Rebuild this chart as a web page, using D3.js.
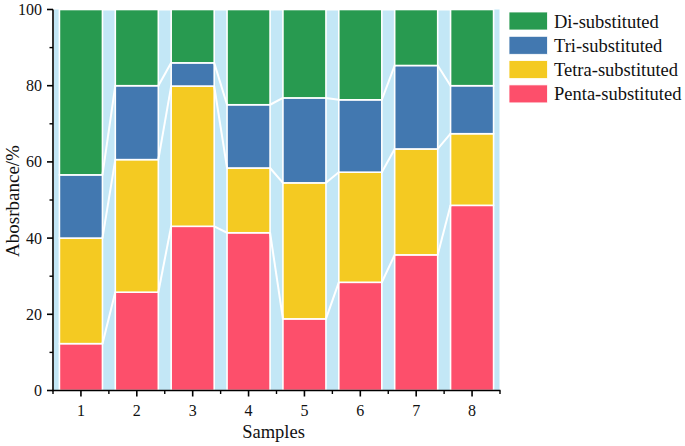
<!DOCTYPE html>
<html><head><meta charset="utf-8">
<script src="https://cdn.jsdelivr.net/npm/d3@7"></script>
<style>body{margin:0;background:#fff}svg{display:block}
svg text{font-family:"Liberation Serif","Times New Roman","DejaVu Serif",serif;fill:#111;}</style>
</head><body><svg id="c" width="685" height="446"></svg>
<script>
const samples = ["1","2","3","4","5","6","7","8"];
const seriesNames = ["Penta-substituted","Tetra-substituted","Tri-substituted","Di-substituted"];
const penta = [12.3, 25.8, 43.1, 41.4, 18.8, 28.4, 35.6, 48.6];
const tetra = [27.7, 34.8, 36.8, 17.0, 35.7, 28.9, 27.8, 18.8];
const tri   = [16.6, 19.4, 6.1, 16.6, 22.3, 19.0, 21.9, 12.6];
const di    = [43.4, 20.0, 14.0, 25.0, 23.2, 23.7, 14.7, 20.0];
const yTicks = [0, 20, 40, 60, 80, 100];
const colors = ["#fd4f6b", "#f4ca22", "#4278b0", "#289a50"];
const legendOrder = ["Di-substituted","Tri-substituted","Tetra-substituted","Penta-substituted"];

const svg = d3.select("#c");
const x = d3.scaleBand().domain(samples).range([53, 500]).paddingInner(0.23).paddingOuter(0.115);
const xb = d3.scaleBand().domain(samples).range([53, 500]);
const y = d3.scaleLinear().domain([0, 100]).range([390.5, 9.5]);

const rows = samples.map((s, i) => ({s, "Penta-substituted": penta[i], "Tetra-substituted": tetra[i], "Tri-substituted": tri[i], "Di-substituted": di[i]}));
const stacked = d3.stack().keys(seriesNames)(rows);

// background
svg.append("rect").attr("x", 54).attr("y", y(100)).attr("width", 499.5 - 54).attr("height", y(0) - y(100)).attr("fill", "#c3e7f6");

// bars
stacked.forEach((ser, k) => {
  svg.append("g").selectAll("rect").data(ser).join("rect")
    .attr("x", d => x(d.data.s))
    .attr("y", d => y(d[1]))
    .attr("width", x.bandwidth())
    .attr("height", d => y(d[0]) - y(d[1]))
    .attr("fill", colors[k])
    .attr("stroke", "#fff").attr("stroke-width", 1.6);
});

// connecting lines
const levels = stacked.map(ser => ser.map(d => d[1]));
levels.forEach(lv => {
  for (let i = 0; i < samples.length - 1; i++) {
    svg.append("line")
      .attr("x1", x(samples[i]) + x.bandwidth()).attr("y1", y(lv[i]))
      .attr("x2", x(samples[i+1])).attr("y2", y(lv[i+1]))
      .attr("stroke", "#fff").attr("stroke-width", 2);
  }
});

// axes
const gx = svg.append("g").attr("transform", `translate(0,${y(0)})`);
gx.append("line").attr("x1", 52.5).attr("x2", 500.5).attr("stroke", "#000").attr("stroke-width", 1.6);
gx.selectAll(".mj").data(samples).join("line")
  .attr("x1", d => x(d) + x.bandwidth()/2).attr("x2", d => x(d) + x.bandwidth()/2)
  .attr("y1", 0).attr("y2", 6).attr("stroke", "#000").attr("stroke-width", 1.6);
const bounds = samples.map(s => xb(s)).concat([500]);
gx.selectAll(".mn").data(bounds).join("line")
  .attr("x1", d => d).attr("x2", d => d).attr("y1", 0).attr("y2", 3.5).attr("stroke", "#000").attr("stroke-width", 1.4);
gx.selectAll("text").data(samples).join("text")
  .attr("x", d => x(d) + x.bandwidth()/2).attr("y", 25)
  .attr("text-anchor", "middle").attr("font-size", 16).text(d => d);

const gy = svg.append("g");
gy.append("line").attr("x1", 53).attr("x2", 53).attr("y1", y(0) + 0.8).attr("y2", y(100)).attr("stroke", "#000").attr("stroke-width", 1.6);
gy.selectAll(".mj").data(yTicks).join("line")
  .attr("x1", 53).attr("x2", 47).attr("y1", d => y(d)).attr("y2", d => y(d)).attr("stroke", "#000").attr("stroke-width", 1.6);
gy.selectAll(".mn").data(yTicks.slice(0, -1).map(v => v + 10)).join("line")
  .attr("x1", 53).attr("x2", 49.5).attr("y1", d => y(d)).attr("y2", d => y(d)).attr("stroke", "#000").attr("stroke-width", 1.4);
gy.selectAll("text").data(yTicks).join("text")
  .attr("x", 42).attr("y", d => y(d) + 5.5).attr("text-anchor", "end")
  .attr("font-size", 16).text(d => d);

svg.append("text").attr("transform", `translate(19,${(y(0)+y(100))/2 + 1}) rotate(-90)`)
  .attr("text-anchor", "middle").attr("font-size", 19).text("Abosrbance/%");
svg.append("text").attr("x", 273.5).attr("y", 438).attr("text-anchor", "middle")
  .attr("font-size", 18.5).text("Samples");

// legend
const lg = svg.append("g");
legendOrder.forEach((name, i) => {
  const c = colors[seriesNames.indexOf(name)];
  lg.append("rect").attr("x", 509).attr("y", 12 + i * 24.3).attr("width", 38.5).attr("height", 18)
    .attr("fill", c).attr("stroke", "#fff").attr("stroke-width", 0.8);
  lg.append("text").attr("x", 554).attr("y", 27.5 + i * 24.3).attr("font-size", 18.5).text(name);
});
</script></body></html>
